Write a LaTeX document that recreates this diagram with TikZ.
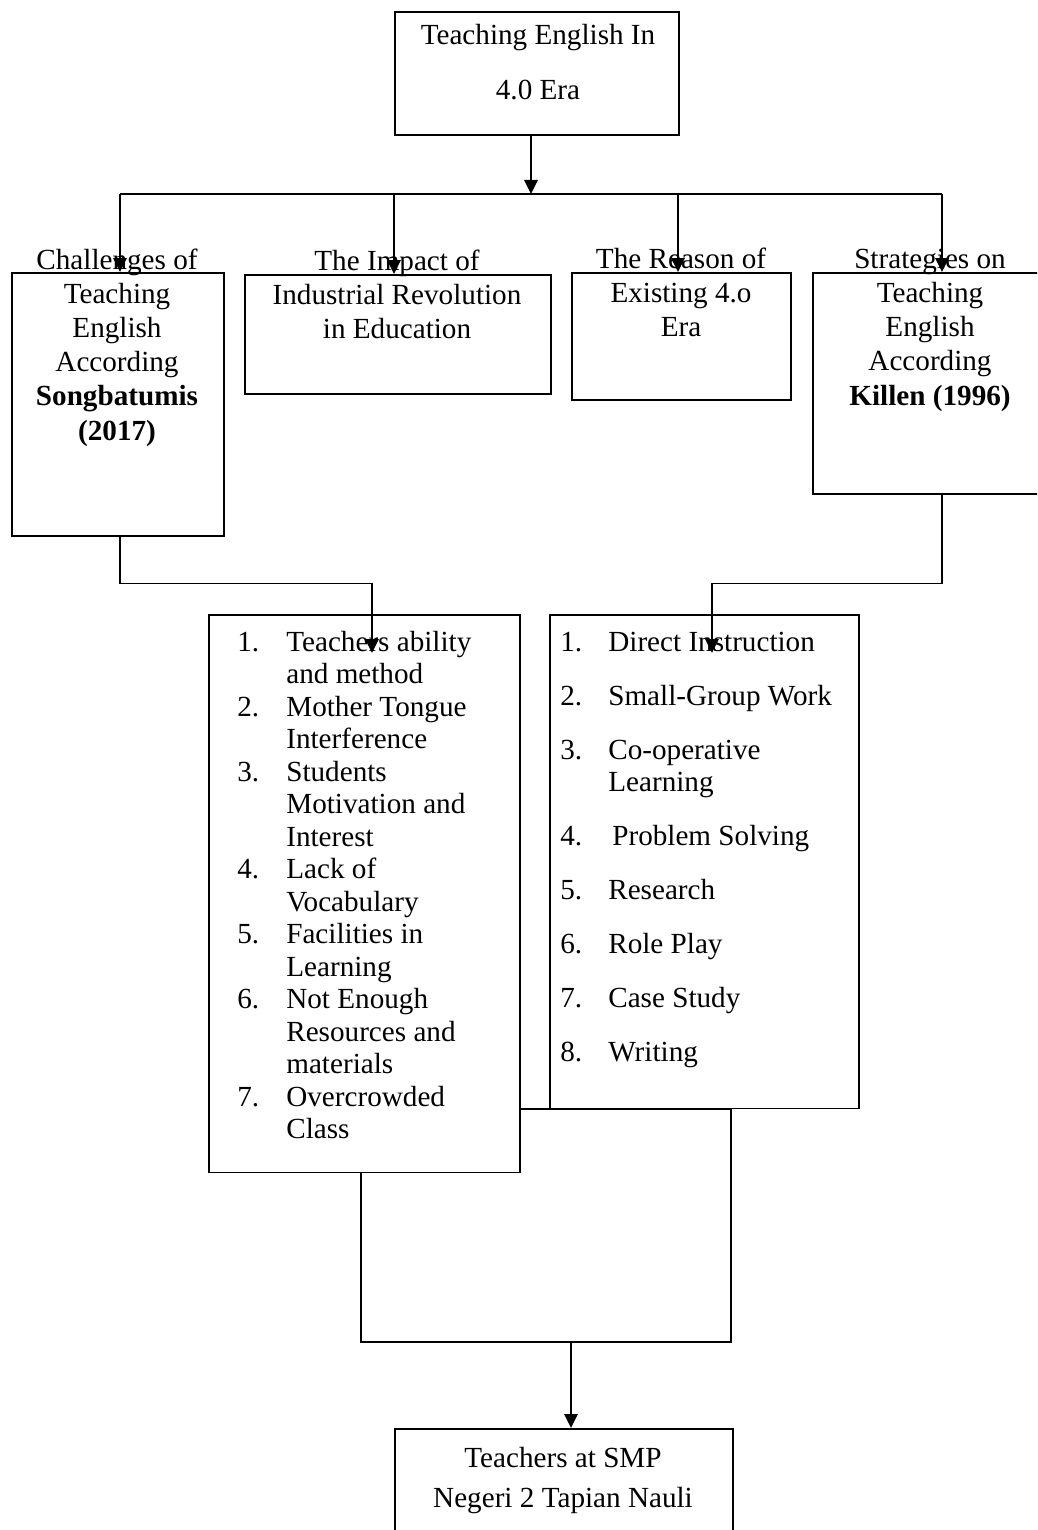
\documentclass[tikz,border=0pt]{standalone}
\usepackage{fontspec}
\setmainfont{Liberation Serif}
\usetikzlibrary{arrows.meta}
\tikzset{
  box/.style={draw, line width=0.9pt, fill=white, inner sep=0pt, anchor=north west},
  wire/.style={line width=0.9pt},
  arr/.style={line width=0.9pt, -{Triangle[length=0.28cm, width=0.27cm]}},
  txt/.style={align=center, anchor=base, inner sep=0pt, font=\fontsize{16.6}{19.45}\selectfont},
  lst/.style={anchor=base west, inner sep=0pt, font=\fontsize{16.6}{18.5}\selectfont}
}
\begin{document}
\begin{tikzpicture}[x=0.02cm, y=-0.02cm]
\useasboundingbox (0,0) rectangle (1037,1530);
\clip (0,0) rectangle (1037,1530);
\node[box, minimum width=5.68cm, minimum height=2.46cm] (era) at (394,11) {};
\node[box, minimum width=4.24cm, minimum height=5.26cm] (chal) at (11,272) {};
\node[box, minimum width=6.12cm, minimum height=2.38cm] (impact) at (244,274) {};
\node[box, minimum width=4.38cm, minimum height=2.54cm] (reason) at (571,272) {};
\node[box, minimum width=4.72cm, minimum height=4.42cm] (strat) at (812,272) {};
\node[box, minimum width=7.40cm, minimum height=4.66cm] (merge) at (360,1108) {};
\node[box, minimum width=6.22cm, minimum height=11.16cm] (probs) at (208,614) {};
\node[box, minimum width=6.18cm, minimum height=9.88cm] (ways) at (549,614) {};
\node[box, minimum width=6.76cm, minimum height=2.60cm] (teach) at (394,1428) {};
\node[txt] (era-t) at (538,100) {Teaching English In\\[0.43cm]4.0 Era};
\node[txt] (chal-t) at (117,440) {Challenges of\\Teaching\\English\\According\\\textbf{Songbatumis}\\\textbf{(2017)}};
\node[txt] (impact-t) at (397,339) {The Impact of\\Industrial Revolution\\in Education};
\node[txt] (reason-t) at (681,337) {The Reason of\\Existing 4.o\\Era};
\node[txt] (strat-t) at (930,405) {Strategies on\\Teaching\\English\\According\\\textbf{Killen (1996)}};
\node[lst] (probs-t) at (237,651) {\begin{tabular}[t]{@{}p{0.98cm}@{}l@{}}
1. & Teachers ability\\
   & and method\\
2. & Mother Tongue\\
   & Interference\\
3. & Students\\
   & Motivation and\\
   & Interest\\
4. & Lack of\\
   & Vocabulary\\
5. & Facilities in\\
   & Learning\\
6. & Not Enough\\
   & Resources and\\
   & materials\\
7. & Overcrowded\\
   & Class
\end{tabular}};
\node[lst] (ways-t) at (560,651) {\begin{tabular}[t]{@{}p{0.96cm}@{}l@{}}
1. & Direct Instruction\\[0.43cm]
2. & Small-Group Work\\[0.43cm]
3. & Co-operative\\
   & Learning\\[0.43cm]
4. & \hspace{0.08cm}Problem Solving\\[0.43cm]
5. & Research\\[0.43cm]
6. & Role Play\\[0.43cm]
7. & Case Study\\[0.43cm]
8. & Writing
\end{tabular}};
\node[txt] (teach-t) at (563,1507) {Teachers at SMP\\[0.11cm]Negeri 2 Tapian Nauli};
\coordinate (bm) at (531,194);
\coordinate (b1) at (120,194);
\coordinate (b2) at (394,194);
\coordinate (b3) at (678,194);
\coordinate (b4) at (942,194);
\coordinate (t1) at (372,653);
\coordinate (t2) at (712,653);
\coordinate (m) at (571,1341);
\draw[arr] (era.south -| bm) -- (bm);
\draw[wire] (b1) -- (b4);
\draw[arr] (b1) -- (b1 |- chal.north);
\draw[arr] (b2) -- (b2 |- impact.north);
\draw[arr] (b3) -- (b3 |- reason.north);
\draw[arr] (b4) -- (b4 |- strat.north);
\draw[arr] (chal.south -| b1) -- ++(0,47) -| (t1);
\draw[arr] (strat.south -| b4) -- ++(0,89) -| (t2);
\draw[arr] (m) -- (m |- teach.north);
\end{tikzpicture}
\end{document}
